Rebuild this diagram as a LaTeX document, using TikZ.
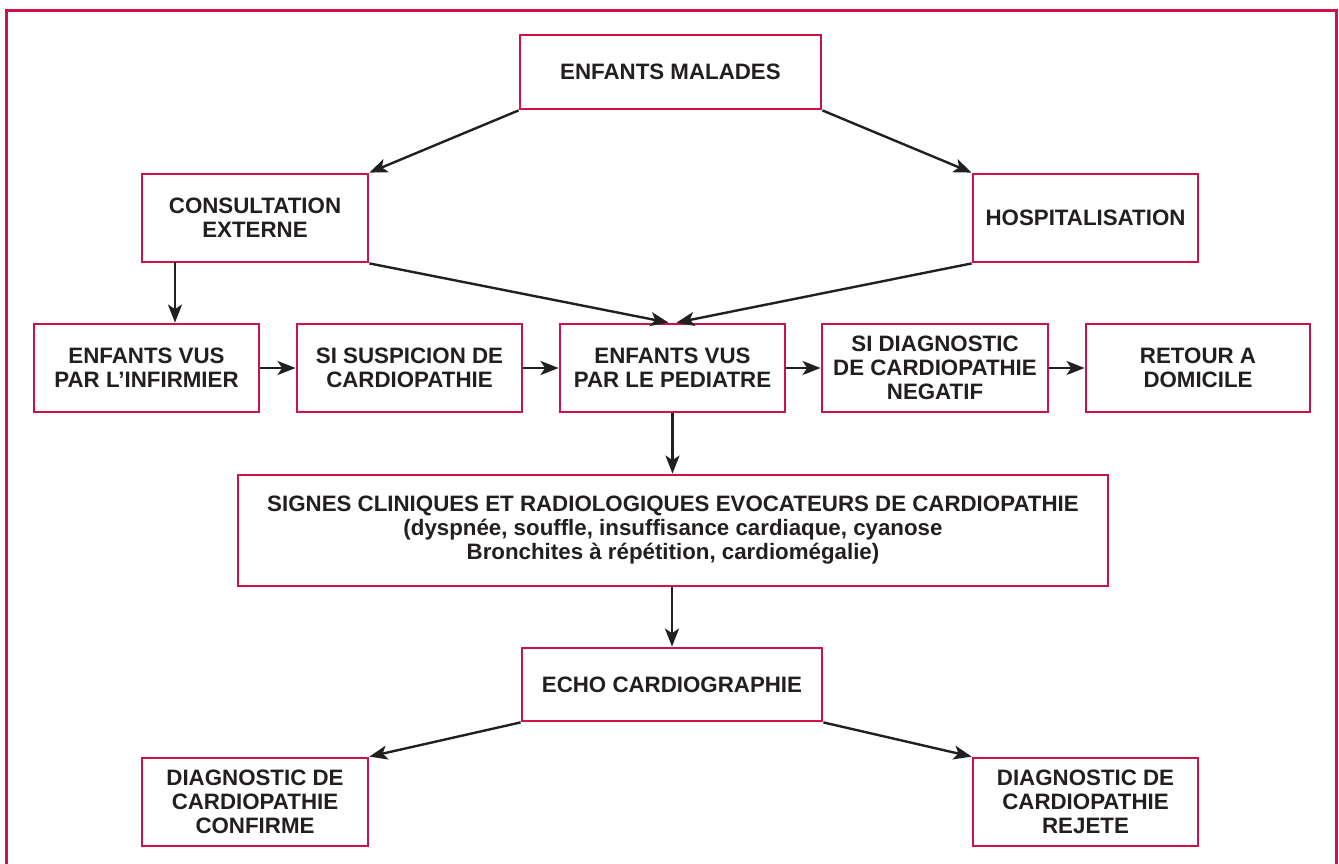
\documentclass[tikz,border=0pt]{standalone}
\usepackage{fontspec}
\setmainfont{Liberation Sans}
\usetikzlibrary{arrows.meta,calc}
\definecolor{boxred}{RGB}{204,18,70}
\definecolor{ink}{RGB}{35,31,32}
\begin{document}
\begin{tikzpicture}[x=1pt,y=-1pt,
  box/.style={draw=boxred,line width=2.8pt,fill=white,inner sep=0pt,align=center,
    text=ink,font=\fontsize{22.3}{24}\selectfont\bfseries},
  arr/.style={draw=ink,line width=2.4pt,-{Stealth[length=18pt,width=14pt,inset=4.5pt]}},
  frame/.style={draw=boxred,line width=3pt}]
\useasboundingbox (0,0) rectangle (1339,863);
\draw[frame] (6.5,866) -- (6.5,10.5) -- (1336.5,10.5) -- (1336.5,866);

\node[box,minimum width=301pt,minimum height=74pt] (mal) at (670.5,72) {ENFANTS MALADES};
\node[box,minimum width=226pt,minimum height=88pt] (con) at (255,218) {CONSULTATION\\EXTERNE};
\node[box,minimum width=225pt,minimum height=88pt] (hos) at (1085.5,218) {HOSPITALISATION};
\node[box,minimum width=225pt,minimum height=88pt] (inf) at (146.5,368) {ENFANTS VUS\\PAR L’INFIRMIER};
\node[box,minimum width=225pt,minimum height=88pt] (sus) at (409.5,368) {SI SUSPICION DE\\CARDIOPATHIE};
\node[box,minimum width=225pt,minimum height=88pt] (ped) at (672.5,368) {ENFANTS VUS\\PAR LE PEDIATRE};
\node[box,minimum width=226pt,minimum height=88pt] (neg) at (935,368) {SI DIAGNOSTIC\\DE CARDIOPATHIE\\NEGATIF};
\node[box,minimum width=224pt,minimum height=88pt] (ret) at (1198,368) {RETOUR A\\DOMICILE};
\node[box,minimum width=870pt,minimum height=111pt] (sig) at (673,530.5) {SIGNES CLINIQUES ET RADIOLOGIQUES EVOCATEURS DE CARDIOPATHIE\\(dyspnée, souffle, insuffisance cardiaque, cyanose\\Bronchites à répétition, cardiomégalie)};
\node[box,minimum width=300pt,minimum height=73pt] (ech) at (672,684.5) {ECHO CARDIOGRAPHIE};
\node[box,minimum width=226pt,minimum height=88pt] (cnf) at (255,802) {DIAGNOSTIC DE\\CARDIOPATHIE\\CONFIRME};
\node[box,minimum width=225pt,minimum height=88pt] (rej) at (1085.5,802) {DIAGNOSTIC DE\\CARDIOPATHIE\\REJETE};

\coordinate (pedL) at ($(ped.north)+(-4,0)$);
\coordinate (pedR) at ($(ped.north)+(4,0)$);
\coordinate (conD) at (175,262);

\draw[arr] (mal.south west) -- (con.north east);
\draw[arr] (mal.south east) -- (hos.north west);
\draw[arr] (con.south east) -- (pedL);
\draw[arr] (hos.south west) -- (pedR);
\draw[arr] (conD) -- (conD |- inf.north);
\draw[arr] (inf) -- (sus);
\draw[arr] (sus) -- (ped);
\draw[arr] (ped) -- (neg);
\draw[arr] (neg) -- (ret);
\draw[arr] (ped.south) -- (ped.south |- sig.north);
\draw[arr] (ech.north |- sig.south) -- (ech.north);
\draw[arr] (ech.south west) -- (cnf.north east);
\draw[arr] (ech.south east) -- (rej.north west);
\end{tikzpicture}
\end{document}
